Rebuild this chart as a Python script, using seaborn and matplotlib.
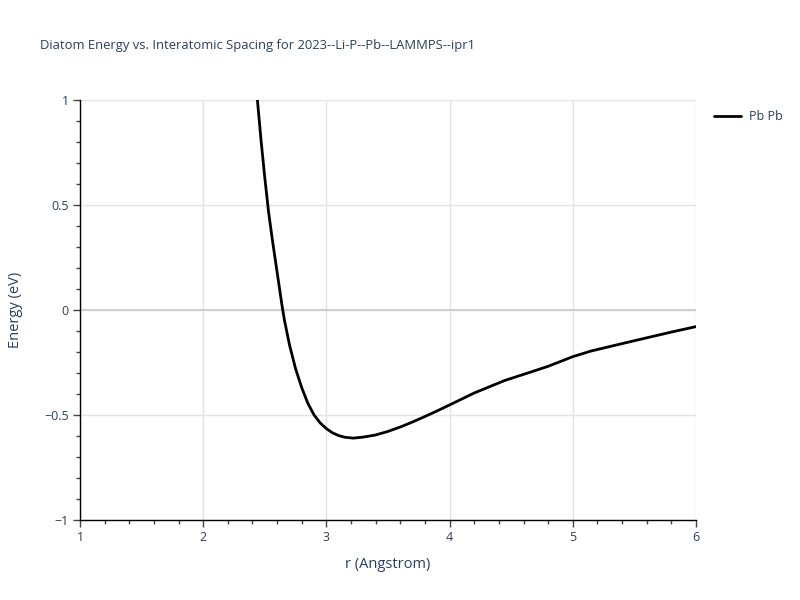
import matplotlib
matplotlib.use("Agg")
import matplotlib.pyplot as plt
import seaborn as sns
import pandas as pd
from matplotlib.ticker import MultipleLocator
from matplotlib.lines import Line2D

r_values = [2.40, 2.44, 2.47, 2.50, 2.53, 2.56, 2.60, 2.64, 2.66, 2.70, 2.75,
            2.80, 2.85, 2.90, 2.95, 3.00, 3.05, 3.10, 3.15, 3.22, 3.30, 3.40,
            3.50, 3.60, 3.70, 3.80, 3.90, 4.00, 4.20, 4.45, 4.65, 4.80, 5.00,
            5.15, 5.45, 5.80, 6.00]
energy_values = [1.27, 1.00, 0.805, 0.63, 0.47, 0.34, 0.18, 0.02, -0.05, -0.165, -0.28,
                 -0.37, -0.445, -0.500, -0.538, -0.565, -0.585, -0.598, -0.606, -0.610, -0.605, -0.595,
                 -0.578, -0.557, -0.533, -0.507, -0.480, -0.452, -0.395, -0.335, -0.297, -0.268, -0.222,
                 -0.195, -0.153, -0.105, -0.079]
series_name = "Pb Pb"
title_text = "Diatom Energy vs. Interatomic Spacing for 2023--Li-P--Pb--LAMMPS--ipr1"
x_label = "r (Angstrom)"
y_label = "Energy (eV)"
x_ticks = [1, 2, 3, 4, 5, 6]
y_ticks = [-1, -0.5, 0, 0.5, 1]
y_tick_labels = ["\u22121", "\u22120.5", "0", "0.5", "1"]

df = pd.DataFrame({"r": r_values, "E": energy_values, "pair": series_name})

sns.set_style("white")
plt.rcParams['font.family'] = ['Open Sans', 'DejaVu Sans']
text_color = "#2a3f5f"

fig = plt.figure(figsize=(8, 6), dpi=100)
ax = fig.add_axes([0.1, 0.1333, 0.77, 0.7])

sns.lineplot(data=df, x="r", y="E", sort=False, color="black", linewidth=2,
             ax=ax, legend=False)

ax.set_xlim(1, 6)
ax.set_ylim(-1, 1)
ax.set_xticks(x_ticks)
ax.set_xticklabels([str(t) for t in x_ticks])
ax.set_yticks(y_ticks)
ax.set_yticklabels(y_tick_labels)
ax.xaxis.set_minor_locator(MultipleLocator(0.2))
ax.yaxis.set_minor_locator(MultipleLocator(0.1))

ax.grid(True, which="major", color="#e3e3e3", linewidth=1)
ax.axhline(0, color="#cfcfcf", linewidth=1.5, zorder=1)
ax.set_axisbelow(True)

for side in ["top", "right"]:
    ax.spines[side].set_visible(False)
for side in ["left", "bottom"]:
    ax.spines[side].set_color("black")
    ax.spines[side].set_linewidth(1)

ax.tick_params(axis="both", which="major", direction="out", length=5, width=1,
               color="#444444", labelcolor=text_color, labelsize=9, pad=3)
ax.tick_params(axis="both", which="minor", direction="out", length=3, width=1,
               color="#444444")
ax.tick_params(axis="both", which="both", bottom=True, left=True)

ax.set_xlabel(x_label, fontsize=10.5, color=text_color, labelpad=9)
ax.set_ylabel(y_label, fontsize=10.5, color=text_color, labelpad=15)

fig.text(0.05, 1 - 46 / 600, title_text, fontsize=9.4, color=text_color,
         ha="left", va="center")

handle = Line2D([0], [0], color="black", linewidth=2)
fig.legend([handle], [series_name], loc="upper left",
           bbox_to_anchor=(0.878, 0.835), frameon=False, fontsize=9,
           labelcolor=text_color, handlelength=2.2, handletextpad=0.6)

fig.savefig("out.png", dpi=100, facecolor="white")
